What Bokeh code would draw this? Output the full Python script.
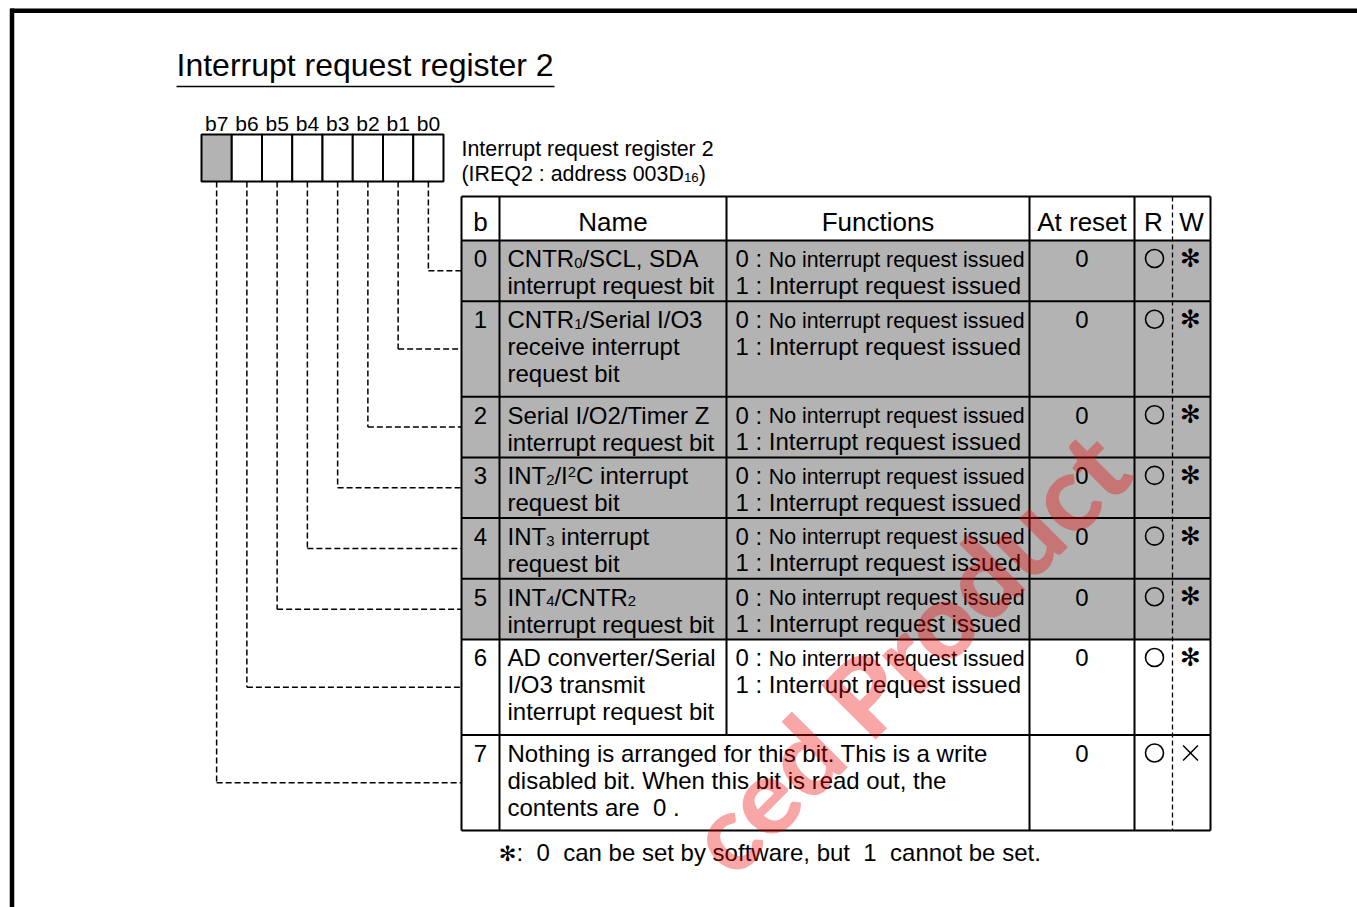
import re
import numpy as np
from bokeh.plotting import figure
from bokeh.models import Range1d
from bokeh.core.properties import value
from bokeh.embed import file_html
from bokeh.resources import INLINE

# ---------------- data ----------------
TITLE = "Interrupt request register 2"
REG_NAME = "Interrupt request register 2"
REG_ADDR = "(IREQ2 : address 003D_{16})"
BIT_LABELS = ["b7", "b6", "b5", "b4", "b3", "b2", "b1", "b0"]
SHADED_BITS = ["b7"]
HEADERS = ["b", "Name", "Functions", "At reset", "R", "W"]
ROW_BITS = ["0", "1", "2", "3", "4", "5", "6", "7"]
NAMES = [
    ["CNTR_{0}/SCL, SDA", "interrupt request bit"],
    ["CNTR_{1}/Serial I/O3", "receive interrupt", "request bit"],
    ["Serial I/O2/Timer Z", "interrupt request bit"],
    ["INT_{2}/I^{2}C interrupt", "request bit"],
    ["INT_{3} interrupt", "request bit"],
    ["INT_{4}/CNTR_{2}", "interrupt request bit"],
    ["AD converter/Serial", "I/O3 transmit", "interrupt request bit"],
    ["Nothing is arranged for this bit. This is a write",
     "disabled bit. When this bit is read out, the",
     "contents are  0 ."],
]
FUNC_LINES = ["0 : No interrupt request issued", "1 : Interrupt request issued"]
FUNCTIONS = [FUNC_LINES] * 7 + [None]
RESET = ["0"] * 8
READ = ["O"] * 8
WRITE = ["*"] * 7 + ["X"]
SHADED_ROWS = [True, True, True, True, True, True, False, False]
FOOTNOTE = ":  0  can be set by software, but  1  cannot be set."
WATERMARK = "ced Product"

# ---------------- layout ----------------
PW, PH = 1357, 907
FONT = "Liberation Sans"
WM_FONT = "Lato Heavy, Lato Black, Roboto Black, Liberation Sans"
GRAY = "#b3b3b3"
CAPC = 0.36  # cap-centre offset (fraction of font size) above the baseline
NB = "\u00a0"

COLS = [461, 499, 726, 1029, 1134, 1172, 1210]
HEAD_TOP, HEAD_BOT = 196, 240
ROW_H = {2: 60.7, 3: 95.5}
BOX_L, BOX_R, BOX_T, BOX_B = 201, 443, 134, 181

AW = {' ': 278, NB: 278, '!': 278, '(': 333, ')': 333, ',': 278, '-': 333, '.': 278, '/': 278, ':': 278}
for d in "0123456789":
    AW[d] = 556
for ch, w in zip("ABCDEFGHIJKLMNOPQRSTUVWXYZ",
                 [667, 667, 722, 722, 667, 611, 778, 722, 278, 500, 667, 556, 833, 722, 778, 667, 778, 722, 667, 611, 722, 667, 944, 667, 667, 611]):
    AW[ch] = w
for ch, w in zip("abcdefghijklmnopqrstuvwxyz",
                 [556, 556, 500, 556, 556, 278, 556, 556, 222, 222, 500, 222, 833, 556, 556, 556, 556, 333, 500, 278, 556, 500, 722, 500, 500, 500]):
    AW[ch] = w


def tw(s, size):
    return sum(AW.get(c, 556) for c in s) / 1000.0 * size


def keep_spaces(s):
    s = s.replace("  ", " " + NB)
    if s.startswith(" "):
        s = NB + s[1:]
    if s.endswith(" "):
        s = s[:-1] + NB
    return s


GROUPS = {}


def emit(x, base, text, size, align="left", font=FONT):
    key = (round(size, 1), font, align)
    g = GROUPS.setdefault(key, dict(x=[], y=[], text=[]))
    g["x"].append(x); g["y"].append(base - CAPC * size); g["text"].append(keep_spaces(text))


def rich(x, base, s, size):
    parts = re.split(r'(_\{[^}]*\}|\^\{[^}]*\})', s)
    cx = x
    for part in parts:
        if not part:
            continue
        if part.startswith("_{"):
            t, fs, dy = part[2:-1], size * 0.62, 1
        elif part.startswith("^{"):
            t, fs, dy = part[2:-1], size * 0.62, -7
        else:
            t, fs, dy = part, size, 0
        emit(cx, base + dy, t, fs)
        cx += tw(t, fs)


p = figure(width=PW, height=PH, output_backend="svg", toolbar_location=None,
           x_range=Range1d(0, PW), y_range=Range1d(PH, 0),
           min_border=0, background_fill_color="white", border_fill_color="white")
p.outline_line_color = None
p.axis.visible = False
p.grid.visible = False

# frame
p.segment(x0=[10, 11.5], y0=[10.3, 8], x1=[PW, 11.5], y1=[10.3, PH],
          line_color="black", line_width=4.5)

# title
emit(176, 76, TITLE, 32)
p.segment(x0=[176], y0=[86], x1=[554], y1=[86], line_color="black", line_width=1.3)

# register box
cw = (BOX_R - BOX_L) / len(BIT_LABELS)
cell_l = [BOX_L + i * cw for i in range(len(BIT_LABELS))]
p.quad(left=cell_l, right=[c + cw for c in cell_l], top=[BOX_T] * 8, bottom=[BOX_B] * 8,
       fill_color=[GRAY if b in SHADED_BITS else "white" for b in BIT_LABELS],
       line_color="black", line_width=2)
for i, b in enumerate(BIT_LABELS):
    emit(cell_l[i] + cw / 2, 131, b, 21, align="center")

emit(461, 156, REG_NAME, 21.4)
rich(461, 181, REG_ADDR, 21.4)

# table rows geometry
row_tops = [HEAD_BOT]
for nm in NAMES:
    row_tops.append(row_tops[-1] + ROW_H[len(nm)])
TBL_B = row_tops[-1]

shaded_l, shaded_r, shaded_t, shaded_b = [], [], [], []
for i, sh in enumerate(SHADED_ROWS):
    if sh:
        shaded_l.append(COLS[0]); shaded_r.append(COLS[-1])
        shaded_t.append(row_tops[i]); shaded_b.append(row_tops[i + 1])
p.quad(left=shaded_l, right=shaded_r, top=shaded_t, bottom=shaded_b,
       fill_color=GRAY, line_color=None)

# table lines
sx0, sy0, sx1, sy1 = [], [], [], []
for yy in [HEAD_TOP, HEAD_BOT] + row_tops[1:]:
    sx0.append(COLS[0]); sx1.append(COLS[-1]); sy0.append(yy); sy1.append(yy)
for ci, xx in enumerate(COLS):
    if ci == 5:
        continue
    if ci == 2:
        sx0.append(xx); sx1.append(xx); sy0.append(HEAD_TOP); sy1.append(row_tops[7])
    else:
        sx0.append(xx); sx1.append(xx); sy0.append(HEAD_TOP); sy1.append(TBL_B)
p.segment(x0=sx0, y0=sy0, x1=sx1, y1=sy1, line_color="black", line_width=2)
p.segment(x0=[COLS[5]], y0=[HEAD_TOP], x1=[COLS[5]], y1=[TBL_B],
          line_color="black", line_width=1.3, line_dash="5 3")

# headers
hc = [(COLS[i] + COLS[i + 1]) / 2 for i in range(4)] + [1153, 1191]
for h, x in zip(HEADERS, hc):
    emit(x, 231, h, 26, align="center")

# rows
circ_x, circ_y, xm_x, xm_y = [], [], [], []
for i in range(8):
    top = row_tops[i]
    base = top + 27
    emit((COLS[0] + COLS[1]) / 2, base, ROW_BITS[i], 24, align="center")
    for k, ln in enumerate(NAMES[i]):
        rich(COLS[1] + 8, base + 27 * k, ln, 24)
    if FUNCTIONS[i] is not None:
        for k, ln in enumerate(FUNCTIONS[i]):
            yb = base + 26.5 * k
            if ln.startswith("0 : "):
                emit(COLS[2] + 9, yb, "0 :", 24)
                emit(COLS[2] + 9 + tw("0 : ", 24), yb, ln[4:], 21.3)
            else:
                emit(COLS[2] + 9, yb, ln, 24)
    emit((COLS[3] + COLS[4]) / 2, base, RESET[i], 24, align="center")
    if READ[i] == "O":
        circ_x.append(1154); circ_y.append(top + 18)
    if WRITE[i] == "*":
        emit(1190, top + 27, "\u273b", 25, align="center", font="DejaVu Sans")
    else:
        xm_x.append(1190); xm_y.append(top + 18)

p.scatter(x=circ_x, y=circ_y, marker="circle", size=18, fill_color=None,
          line_color="black", line_width=1.6)
p.scatter(x=xm_x, y=xm_y, marker="x", size=21, line_color="black", line_width=1.5)

# connectors from register bits to rows
bit_x = {b: cell_l[i] + cw / 2 for i, b in enumerate(BIT_LABELS)}
cx0, cy0, cx1, cy1 = [], [], [], []
for i in range(8):
    b = "b" + ROW_BITS[i]
    ym = (row_tops[i] + row_tops[i + 1]) / 2
    x = bit_x[b]
    cx0 += [x, x]; cy0 += [BOX_B, ym]; cx1 += [x, COLS[0]]; cy1 += [ym, ym]
p.segment(x0=cx0, y0=cy0, x1=cx1, y1=cy1, line_color="black", line_width=1.5, line_dash="6 3")

# footnote
emit(507, 861, "\u273b", 21, align="center", font="DejaVu Sans")
emit(516, 861, FOOTNOTE, 24)

# all texts, grouped by font / size / alignment
for (size, font, align), g in GROUPS.items():
    p.text(x=g["x"], y=g["y"], text=g["text"], text_font=value(font),
           text_font_size=value(f"{size}px"), text_align=align,
           text_baseline="middle", text_color="black")

# watermark (baseline start ~ (731, 879), rotated 45 degrees), drawn last
WM_FS = 106
wm_off = CAPC * WM_FS * np.sqrt(0.5)
p.text(x=[731 - wm_off], y=[879 - wm_off], text=[WATERMARK], angle=[np.pi / 4],
       text_font=value(WM_FONT), text_font_size=value(f"{WM_FS}px"),
       text_color="#ee0000", text_alpha=0.35, text_baseline="middle", text_align="left")

open("out.html", "w").write(file_html(p, INLINE))
